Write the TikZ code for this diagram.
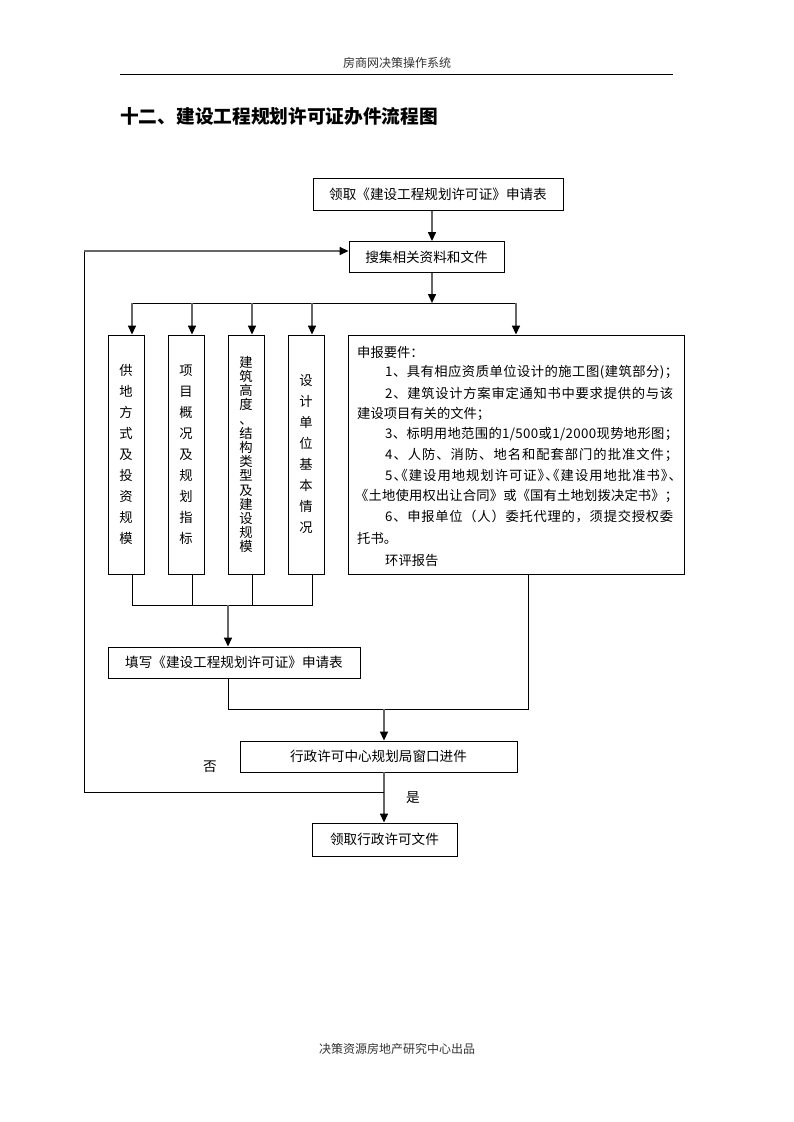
\documentclass[tikz,border=0pt]{standalone}
\usepackage{fontspec}
\usetikzlibrary{arrows.meta}
\newfontfamily\cjk{Noto Sans CJK SC}
\newfontfamily\cjkh[RawFeature=+halt]{Noto Sans CJK SC}
\def\jsp#1{\ifx#1\relax\else\hfil#1\expandafter\jsp\fi}
\def\jfirst#1{#1\jsp}
\newcommand\jline[2]{\hbox to #1{\jfirst#2\relax}}
\begin{document}
\begin{tikzpicture}[x=1pt,y=-1pt,
  box/.style={draw, line width=0.9pt, inner sep=0pt, font=\cjk\fontsize{13.6}{16}\selectfont},
  vbox/.style={draw, line width=0.9pt, inner sep=0pt, minimum width=36pt, minimum height=239pt, align=center, font=\cjk\fontsize{13.3}{21}\selectfont},
  ln/.style={line width=0.9pt},
  arr/.style={line width=1.5pt, draw=black!60, -{Triangle[length=9pt,width=8pt,black]}},
  txt/.style={anchor=west, inner sep=0pt, font=\cjk\fontsize{13.3}{16}\selectfont},
  lbl/.style={inner sep=0pt, font=\cjk\fontsize{13.6}{16}\selectfont}]
\fill[white] (0,0) rectangle (793,1122);
\useasboundingbox (0,0) rectangle (793,1122);
% header
\node[inner sep=0pt, font=\cjk\fontsize{12}{14}\selectfont, text=black!80] (hd) at (397,63) {房商网决策操作系统};
\draw[line width=0.8pt] (120,74) -- (673,74);
\node[anchor=west, inner sep=0pt, font=\cjk\bfseries\fontsize{18.7}{22}\selectfont] (title) at (120,116) {十二、建设工程规划许可证办件流程图};
% top boxes
\node[box, minimum width=250pt, minimum height=32pt] (b1) at (438,194.5) {领取《建设工程规划许可证》申请表};
\node[box, minimum width=155pt, minimum height=31pt] (b2) at (426.5,257) {搜集相关资料和文件};
\coordinate (br) at (432,303);
\draw[arr] (b1.south -| br) -- (b2.north -| br);
\draw[arr] (b2.south -| br) -- (br);
% vertical boxes
\node[vbox] (vA) at (126,454.5) {供\\地\\方\\式\\及\\投\\资\\规\\模};
\node[vbox] (vB) at (186,454.5) {项\\目\\概\\况\\及\\规\\划\\指\\标};
\node[vbox, font=\cjk\fontsize{13.3}{14.2}\selectfont] (vC) at (246,454.5) {建\\筑\\高\\度\\、\\结\\构\\类\\型\\及\\建\\设\\规\\模};
\node[vbox] (vD) at (306,454.5) {设\\计\\单\\位\\基\\本\\情\\况};
\node[draw, line width=0.9pt, inner sep=0pt, minimum width=336pt, minimum height=239pt] (big) at (516,454.5) {};
% branch
\coordinate (bA) at (132,303);
\coordinate (bB) at (192,303);
\coordinate (bC) at (252,303);
\coordinate (bD) at (312,303);
\coordinate (bE) at (516,303);
\draw[ln] (bA) -- (bE);
\draw[arr] (bA) -- (vA.north -| bA);
\draw[arr] (bB) -- (vB.north -| bB);
\draw[arr] (bC) -- (vC.north -| bC);
\draw[arr] (bD) -- (vD.north -| bD);
\draw[arr] (bE) -- (big.north -| bE);
% big box text
\node[txt] (t1) at (357,352) {申报要件：};
\node[txt] (t2) at (385,372.5) {\jline{293pt}{1、具有相应资质单位设计的施工图(建筑部分)；}};
\node[txt] (t3) at (385,393) {\jline{288pt}{2、建筑设计方案审定通知书中要求提供的与该}};
\node[txt] (t4) at (357,413.5) {建设项目有关的文件；};
\node[txt] (t5) at (385,434) {\jline{293pt}{3、标明用地范围的1/500或1/2000现势地形图；}};
\node[txt] (t6) at (385,454.5) {\jline{293pt}{4、人防、消防、地名和配套部门的批准文件；}};
\node[txt, font=\cjkh\fontsize{13.3}{16}\selectfont] (t7) at (385,475) {\jline{290pt}{5、《建设用地规划许可证》、《建设用地批准书》、}};
\node[txt] (t8) at (355,496) {\jline{323pt}{《土地使用权出让合同》或《国有土地划拨决定书》；}};
\node[txt] (t9) at (385,517) {\jline{288pt}{6、申报单位（人）委托代理的，须提交授权委}};
\node[txt] (t10) at (357,538) {托书。};
\node[txt] (t11) at (385,560) {环评报告};
% merge
\coordinate (mA) at (132,605);
\coordinate (mB) at (192,605);
\coordinate (mC) at (252,605);
\coordinate (mD) at (312,605);
\coordinate (mF) at (228,605);
\draw[ln] (vA.south -| mA) -- (mA) -- (mD) -- (vD.south -| mD);
\draw[ln] (vB.south -| mB) -- (mB);
\draw[ln] (vC.south -| mC) -- (mC);
\node[box, minimum width=252pt, minimum height=31pt] (fill) at (234,662.5) {填写《建设工程规划许可证》申请表};
\draw[arr] (mF) -- (fill.north -| mF);
\coordinate (j1) at (228,709);
\coordinate (j2) at (528,709);
\coordinate (j3) at (384,709);
\draw[ln] (fill.south -| j1) -- (j1) -- (j2) -- (big.south -| j2);
\node[box, minimum width=277pt, minimum height=31pt] (proc) at (378.5,756.5) {行政许可中心规划局窗口进件};
\draw[arr] (j3) -- (proc.north -| j3);
\node[box, minimum width=145pt, minimum height=33pt] (final) at (384.5,839.5) {领取行政许可文件};
\coordinate (j4) at (384,792);
\draw[arr] (proc.south -| j4) -- (final.north -| j4);
\coordinate (l1) at (84,792);
\coordinate (l2) at (84,251);
\draw[ln] (j4) -- (l1) -- (l2);
\draw[arr] (l2) -- (b2.west |- l2);
\node[lbl] (no) at (210,767) {否};
\node[lbl] (yes) at (413,798) {是};
% footer
\node[inner sep=0pt, font=\cjk\fontsize{12}{14}\selectfont, text=black!80] (ft) at (397,1049) {决策资源房地产研究中心出品};
\end{tikzpicture}
\end{document}
